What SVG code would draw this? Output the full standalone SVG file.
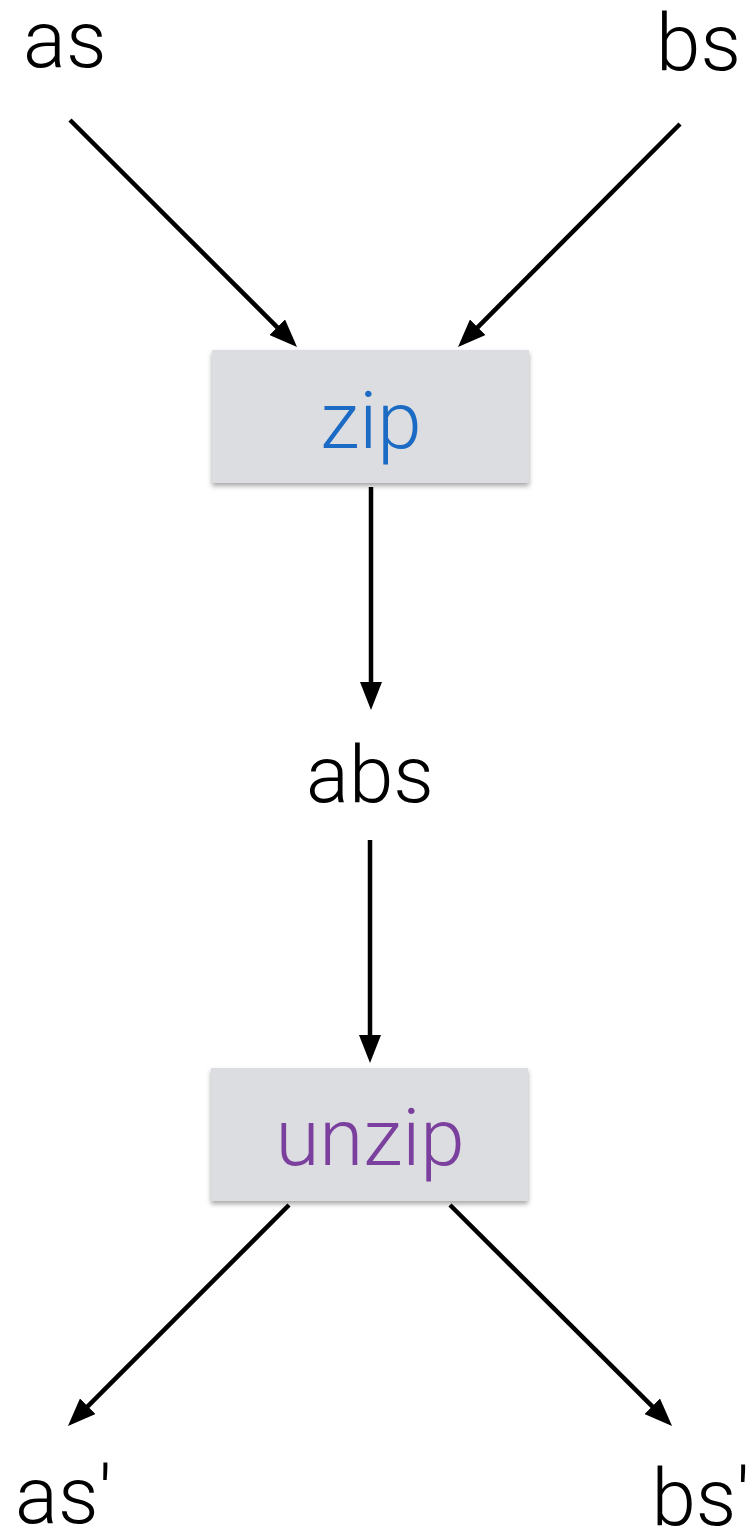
<svg xmlns="http://www.w3.org/2000/svg" width="754" height="1529" viewBox="0 0 754 1529">
  <style>
    .lbl { font-family: Roboto, "Liberation Sans", sans-serif; font-weight: 300; font-size: 80px; fill: #000; }
    .box { fill: #dcdde0; filter: url(#shadow); }
    .edge { stroke: #000; stroke-width: 4.5; fill: none; marker-end: url(#arrow); }
  </style>
  <defs>
    <filter id="shadow" x="-10%" y="-10%" width="120%" height="130%">
      <feDropShadow dx="0" dy="3" stdDeviation="2.5" flood-color="#000" flood-opacity="0.35"/>
    </filter>
    <marker id="arrow" markerUnits="userSpaceOnUse" markerWidth="28" markerHeight="22" refX="10" refY="11" orient="auto">
      <path d="M0,0 L28,11 L0,22 z" fill="#000"/>
    </marker>
  </defs>
  <rect width="754" height="1529" fill="#fff"/>
  <g id="connectors">
    <line class="edge" x1="70" y1="120" x2="284.3" y2="334.3"/>
    <line class="edge" x1="680" y1="124" x2="470.7" y2="334.3"/>
    <line class="edge" x1="371" y1="487" x2="371" y2="692"/>
    <line class="edge" x1="370" y1="840" x2="370" y2="1045"/>
    <line class="edge" x1="289" y1="1205" x2="80.7" y2="1413.3"/>
    <line class="edge" x1="450" y1="1205" x2="659.3" y2="1413.3"/>
  </g>
  <g id="node-as"><text class="lbl" x="23" y="67">as</text></g>
  <g id="node-bs"><text class="lbl" x="741" y="70" text-anchor="end">bs</text></g>
  <g id="node-zip">
    <rect class="box" x="212" y="350" width="317" height="133"/>
    <text class="lbl" x="371" y="448" text-anchor="middle" style="fill:#1b6ac4">zip</text>
  </g>
  <g id="node-abs"><text class="lbl" x="370" y="802" text-anchor="middle">abs</text></g>
  <g id="node-unzip">
    <rect class="box" x="211" y="1068" width="317" height="133"/>
    <text class="lbl" x="370" y="1165" text-anchor="middle" style="fill:#7b3f9e">unzip</text>
  </g>
  <g id="node-as2"><text class="lbl" x="15" y="1523">as'</text></g>
  <g id="node-bs2"><text class="lbl" x="750" y="1525" text-anchor="end">bs'</text></g>
</svg>
